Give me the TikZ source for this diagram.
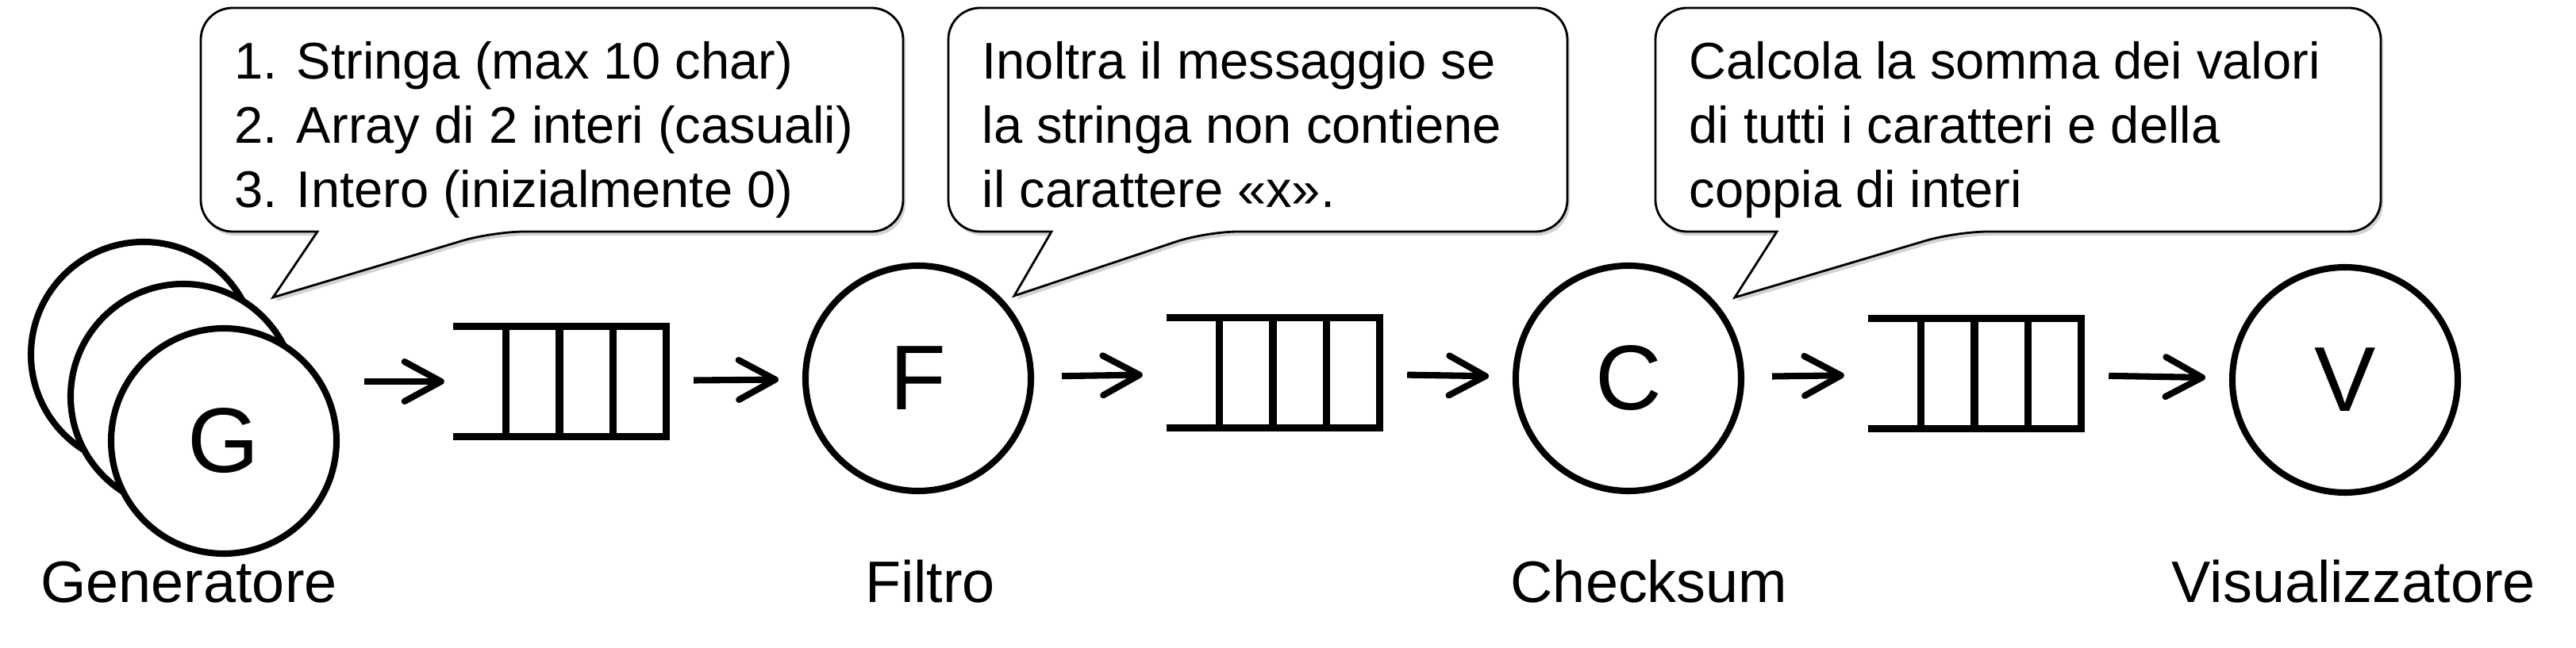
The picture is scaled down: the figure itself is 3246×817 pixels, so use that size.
\documentclass[tikz,border=0pt]{standalone}
\usepackage{fontspec}
\setmainfont{Liberation Sans}
\usetikzlibrary{arrows.meta}
\usetikzlibrary{shadows}
\usetikzlibrary{calc}

\begin{document}
\begin{tikzpicture}[x=0.1mm, y=-0.1mm,
	processo/.style={circle, draw, line width=2.3pt, fill=white, minimum size=28.4mm, inner sep=0pt, font=\fontsize{33}{33}\selectfont},
	nome/.style={anchor=base, font=\fontsize{21}{25}\selectfont},
	coda/.style={minimum width=26.7mm, minimum height=13.7mm, inner sep=0pt},
	linea/.style={line width=2.6pt},
	freccia/.style={-{Straight Barb[length=4.6mm, width=5mm, round]}, line width=2.3pt},
	fumetto/.style={line width=0.8pt, fill=white, drop shadow={shadow xshift=0.3mm, shadow yshift=-0.5mm, opacity=0.35}},
	testo/.style={anchor=north west, align=left, inner sep=0pt, font=\fontsize{18.5}{23}\selectfont}]

\useasboundingbox (0,0) rectangle (3246,817);

%fumetti
\foreach \l/\r/\a/\b/\tx/\ty in {253/1138/400/621/344/375, 1195/1975/1325/1520/1278/373, 2086/3000/2239/2465/2186/375}
	\draw[fumetto] (\l,150) [rounded corners=4mm] -- (\l,10) -- (\r,10) -- (\r,292) -- (\b,292) [sharp corners] -- (\tx,\ty) -- (\a,292) [rounded corners=4mm] -- (\l,292) -- cycle;

\node[testo] (n1) at (295,52) {1. Stringa (max 10 char)\\2. Array di 2 interi (casuali)\\3. Intero (inizialmente 0)};
\node[testo] (n2) at (1237,52) {Inoltra il messaggio se\\la stringa non contiene\\il carattere «x».};
\node[testo] (n3) at (2128,52) {Calcola la somma dei valori\\di tutti i caratteri e della\\coppia di interi};

%processi
\node[processo] (G3) at (181,447) {};
\node[processo] (G2) at (231,500) {};
\node[processo] (G) at (282,556) {G};
\node[processo] (F) at (1157,477) {F};
\node[processo] (C) at (2052,477) {C};
\node[processo] (V) at (2955,479) {V};

\node[nome] (lG) at (238,760) {Generatore};
\node[nome] (lF) at (1172,760) {Filtro};
\node[nome] (lC) at (2078,760) {Checksum};
\node[nome] (lV) at (2966,760) {Visualizzatore};

%code
\node[coda] (q1) at (705,481) {};
\node[coda] (q2) at (1604,470) {};
\node[coda] (q3) at (2488,471) {};

\foreach \q in {q1,q2,q3} {
	\draw[linea] (\q.north west) -- (\q.north east) -- (\q.south east) -- (\q.south west);
	\foreach \f in {0.25,0.5,0.75}
		\draw[linea] ($(\q.north west)!\f!(\q.north east)$) -- ($(\q.south west)!\f!(\q.south east)$);
}

\draw[freccia, shorten <=3.1mm, shorten >=1.1mm] (G.east |- q1) -- (q1);
\foreach \a/\b in {q1/F, F/q2, q2/C, C/q3, q3/V}
	\draw[freccia, shorten <=3.5mm, shorten >=3mm] (\a) -- (\b);

\end{tikzpicture}
\end{document}
